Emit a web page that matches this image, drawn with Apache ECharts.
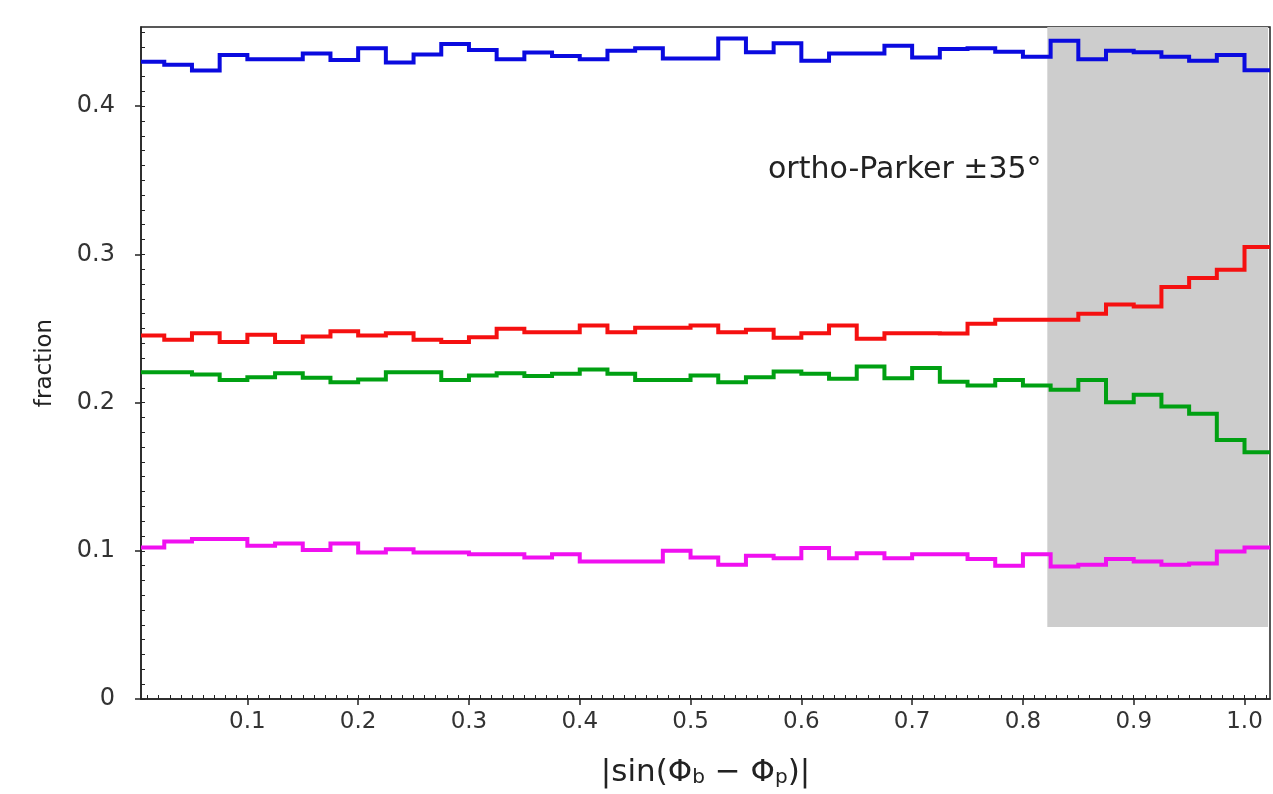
<!DOCTYPE html>
<html><head><meta charset="utf-8">
<script src="https://cdn.jsdelivr.net/npm/echarts@6/dist/echarts.min.js"></script>
<style>html,body{margin:0;padding:0;background:#fff}#c{width:1273px;height:794px}</style>
</head><body><div id="c"></div>
<script>
// histogram bins
const binStart = 0;
const binWidth = 0.025;
const blueValues = [0.430,0.428,0.424,0.4345,0.4316,0.4316,0.4356,0.4311,0.4390,0.4295,
  0.4349,0.4419,0.4378,0.4316,0.4362,0.4338,0.4316,0.4374,0.4390,0.4322,
  0.4322,0.4457,0.4363,0.4424,0.4306,0.4356,0.4356,0.4408,0.4329,0.4385,
  0.4390,0.4367,0.4333,0.4441,0.4316,0.4374,0.4363,0.4333,0.4306,0.4345,0.4243];
const redValues = [0.2453,0.2424,0.2468,0.2408,0.2457,0.2408,0.2446,0.2482,0.2453,0.2468,
  0.2424,0.2408,0.2441,0.2498,0.2475,0.2475,0.2520,0.2475,0.2505,0.2505,
  0.2520,0.2475,0.2491,0.2437,0.2468,0.2520,0.2430,0.2468,0.2468,0.2466,
  0.2532,0.2559,0.2559,0.2559,0.2599,0.2662,0.2649,0.2779,0.2840,0.2897,0.3050];
const greenValues = [0.2205,0.2205,0.2189,0.2153,0.2171,0.2198,0.2167,0.2137,0.2155,0.2205,
  0.2205,0.2153,0.2182,0.2198,0.2180,0.2194,0.2223,0.2194,0.2153,0.2153,
  0.2182,0.2137,0.2171,0.2209,0.2194,0.2160,0.2243,0.2164,0.2234,0.2140,
  0.2115,0.2153,0.2115,0.2086,0.2153,0.2003,0.2052,0.1973,0.1924,0.1748,0.1664];
const magentaValues = [0.1022,0.1063,0.1079,0.1079,0.1034,0.1050,0.1005,0.1050,0.0989,0.1011,
  0.0989,0.0989,0.0977,0.0977,0.0955,0.0977,0.0928,0.0928,0.0928,0.1000,
  0.0955,0.0905,0.0966,0.0950,0.1018,0.0950,0.0984,0.0950,0.0977,0.0977,
  0.0944,0.0899,0.0977,0.0894,0.0905,0.0944,0.0928,0.0905,0.0914,0.0995,0.1022];
const xTickLabels = [0.1,0.2,0.3,0.4,0.5,0.6,0.7,0.8,0.9,1.0];
const yTickLabels = [0,0.1,0.2,0.3,0.4];
const xRange = [0.004, 1.023];
const yRange = [0, 0.4534];
const minorStep = 0.01;
const shadeX = [0.822, 1.0212];
const shadeYBottom = 0.0486;
const annotationText = 'ortho-Parker ±35°';
const xName = '|sin(Φ{s|b} − Φ{s|p})|';
const yName = 'fraction';

function minorVals(r){
  const out=[]; for(let k=Math.ceil(r[0]/minorStep);k*minorStep<=r[1]+1e-9;k++) out.push(+(k*minorStep).toFixed(4));
  return out;
}
const FONT = 'DejaVu Sans';
const chart = echarts.init(document.getElementById('c'));
function stepSeries(name, vals, color){
  return {name, type:'custom', clip:true, z:3, silent:true,
    data: vals.map((v,i)=>[binStart + i*binWidth, v]),
    encode:{x:0, y:1},
    renderItem:function(params, api){
      if(params.dataIndex !== 0) return null;
      const pts = [];
      for(let i=0;i<vals.length;i++){
        const x0 = binStart + i*binWidth, x1 = x0 + binWidth;
        pts.push(api.coord([x0, vals[i]]));
        pts.push(api.coord([x1, vals[i]]));
      }
      return {type:'polyline', shape:{points:pts}, style:{stroke:color, lineWidth:4, fill:null, lineJoin:'miter'}};
    }};
}
chart.setOption({
  animation:false,
  backgroundColor:'#fff',
  grid:{left:141, top:27, width:1129, height:672, show:true, borderColor:'#222', borderWidth:1.5, backgroundColor:'transparent'},
  xAxis:[
    {type:'value', min:xRange[0], max:xRange[1], position:'bottom',
     name:xName, nameLocation:'middle', nameGap:58,
     nameTextStyle:{fontFamily:FONT, fontSize:31, color:'#222', rich:{s:{fontFamily:FONT, fontSize:20, color:'#222', verticalAlign:'bottom'}}},
     axisLine:{show:true, lineStyle:{color:'#222', width:1.5}},
     axisTick:{show:true, length:6, inside:false, customValues:xTickLabels, lineStyle:{color:'#222', width:1.5}},
     axisLabel:{show:true, customValues:xTickLabels, margin:12, fontFamily:FONT, fontSize:23, color:'#333', formatter:v=>v.toFixed(1)},
     splitLine:{show:false}},
    {type:'value', min:xRange[0], max:xRange[1], position:'bottom',
     axisLine:{show:false}, axisLabel:{show:false}, splitLine:{show:false},
     axisTick:{show:true, length:4, inside:true, customValues:minorVals(xRange), lineStyle:{color:'#222', width:1}}}
  ],
  yAxis:[
    {type:'value', min:yRange[0], max:yRange[1], interval:0.1, position:'left',
     name:yName, nameLocation:'middle', nameGap:84, nameRotate:90,
     nameTextStyle:{fontFamily:FONT, fontSize:23, color:'#222'},
     axisLine:{show:true, lineStyle:{color:'#222', width:1.5}},
     axisTick:{show:true, length:6, inside:false, lineStyle:{color:'#222', width:1.5}},
     axisLabel:{show:true, showMaxLabel:false, margin:26, fontFamily:FONT, fontSize:24, color:'#333', formatter:v=> v===0 ? '0' : v.toFixed(1)},
     splitLine:{show:false}},
    {type:'value', min:yRange[0], max:yRange[1], position:'left', offset:0,
     axisLine:{show:false}, axisLabel:{show:false}, splitLine:{show:false},
     axisTick:{show:true, length:4, inside:true, customValues:minorVals(yRange), lineStyle:{color:'#222', width:1}}}
  ],
  series:[
    {type:'line', data:[], z:1, silent:true,
     markArea:{silent:true, itemStyle:{color:'#cdcdcd'}, data:[[{xAxis:shadeX[0], yAxis:shadeYBottom},{xAxis:shadeX[1], yAxis:yRange[1]}]]}},
    stepSeries('blue', blueValues, '#0a0adf'),
    stepSeries('red', redValues, '#f51010'),
    stepSeries('green', greenValues, '#00a012'),
    stepSeries('magenta', magentaValues, '#f010f0')
  ],
  graphic:[{type:'text', left:768, top:155, style:{text:annotationText, fontFamily:FONT, fontSize:30, fill:'#222'}}]
});
</script></body></html>
